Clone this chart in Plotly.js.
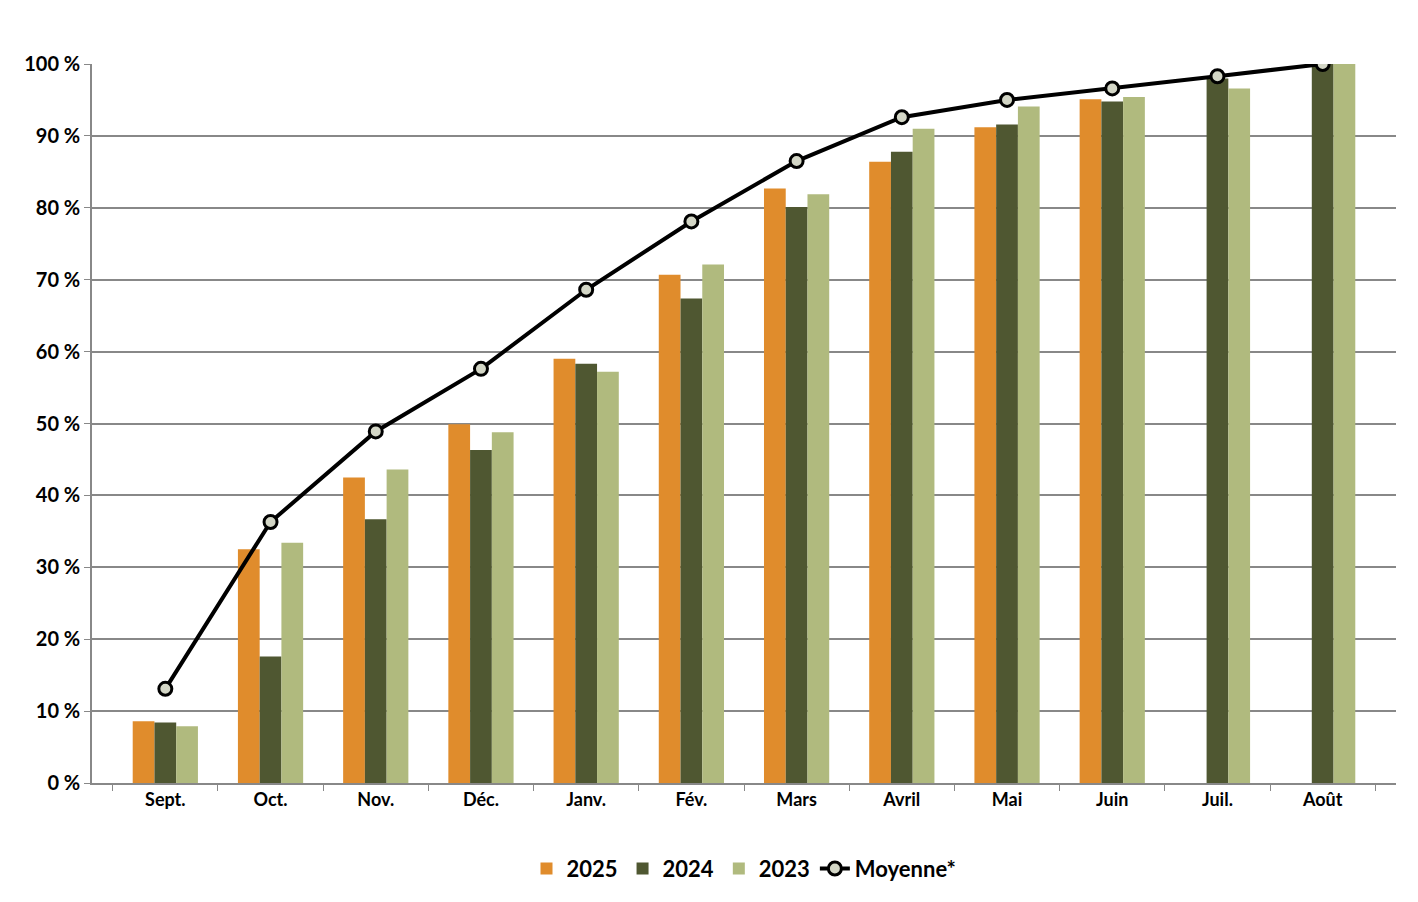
<!DOCTYPE html>
<html>
<head>
<meta charset="utf-8">
<script src="https://cdn.plot.ly/plotly-3.0.1.min.js"></script>
<style>body{margin:0;background:#fff}</style>
</head>
<body>
<div id="chart" style="width:1418px;height:902px"></div>
<script>
// Months of the school year
var months = ['Sept.', 'Oct.', 'Nov.', 'Déc.', 'Janv.', 'Fév.', 'Mars', 'Avril', 'Mai', 'Juin', 'Juil.', 'Août'];

// Cumulative share, in %
var y2025 = [8.6, 32.5, 42.5, 49.9, 59.0, 70.7, 82.7, 86.4, 91.2, 95.1, null, null];
var y2024 = [8.4, 17.6, 36.7, 46.3, 58.3, 67.4, 80.1, 87.8, 91.6, 94.8, 98.0, 100];
var y2023 = [7.9, 33.4, 43.6, 48.8, 57.2, 72.1, 81.9, 91.0, 94.1, 95.4, 96.6, 100];
var moyenne = [13.1, 36.3, 48.9, 57.6, 68.6, 78.1, 86.5, 92.6, 95.0, 96.6, 98.3, 100];

var font = 'Lato, "DejaVu Sans", sans-serif';

var data = [
  { x: months, y: y2025, name: '2025', type: 'bar', marker: { color: '#E08C2C' } },
  { x: months, y: y2024, name: '2024', type: 'bar', marker: { color: '#4F5731' } },
  { x: months, y: y2023, name: '2023', type: 'bar', marker: { color: '#B0BA7E' } },
  {
    x: months, y: moyenne, name: 'Moyenne*', type: 'scatter', mode: 'lines+markers',
    line: { color: '#000', width: 4 },
    marker: { size: 13, color: '#D3D6C6', line: { color: '#000', width: 3 } }
  }
];

var layout = {
  width: 1418, height: 902,
  margin: { l: 92, r: 22, t: 64, b: 112 },
  paper_bgcolor: '#fff', plot_bgcolor: '#fff',
  font: { family: font, size: 18, color: '#000', weight: 'bold' },
  barmode: 'group', bargap: 0.38, bargroupgap: 0,
  showlegend: true,
  legend: { orientation: 'h', x: 0.5, xanchor: 'center', y: -0.09, yanchor: 'top',
            font: { size: 22, weight: 'bold' }, traceorder: 'normal' },
  xaxis: {
    showline: true, linecolor: '#888', linewidth: 1.5,
    ticks: 'outside', tickson: 'boundaries', ticklen: 6, tickcolor: '#888',
    tickfont: { size: 18, weight: 'bold' }
  },
  yaxis: {
    range: [0, 100], dtick: 10, ticksuffix: ' %',
    showgrid: true, gridcolor: '#888', gridwidth: 1.5,
    showline: true, linecolor: '#888', linewidth: 1.5,
    ticks: 'outside', ticklen: 6, tickcolor: '#888',
    tickfont: { size: 20, weight: 'bold' }, zeroline: false
  }
};

Plotly.newPlot('chart', data, layout, { displayModeBar: false });
</script>
</body>
</html>
